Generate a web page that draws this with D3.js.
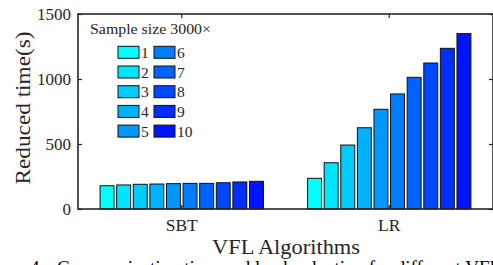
<!DOCTYPE html>
<html>
<head>
<meta charset="UTF-8">
<script src="https://d3js.org/d3.v7.min.js"></script>
<style>
  body { margin: 0; background: #fff; }
  svg text { font-family: "Liberation Serif", "Times New Roman", serif; fill: #262626; }
</style>
</head>
<body>
<div id="chart"></div>
<script>
// dati
var algorithms = ["SBT", "LR"];
var sampleSizes = ["1", "2", "3", "4", "5", "6", "7", "8", "9", "10"];
var sbtTime = [179, 185, 190, 192, 195, 197, 197, 202, 208, 213];
var lrTime = [236, 356, 492, 625, 767, 885, 1013, 1123, 1236, 1349];
var yTicks = [0, 500, 1000, 1500];

var width = 493, height = 265;
var plotLeft = 78, plotRight = 493, plotTop = 14, plotBottom = 209;

var svg = d3.select("#chart").append("svg")
    .attr("width", width)
    .attr("height", height);

var x0 = d3.scaleBand().domain(algorithms).range([plotLeft, plotRight]);
var x1 = d3.scaleBand().domain(sampleSizes).range([-83, 83]).paddingInner(0.16).paddingOuter(0.08);
var y = d3.scaleLinear().domain([0, 1500]).range([plotBottom, plotTop]);

var color = d3.scaleLinear().domain([0, sampleSizes.length - 1])
    .range(["#00ffff", "#0014ff"]).interpolate(d3.interpolateRgb);

var rows = [
    { name: "SBT", values: sbtTime },
    { name: "LR", values: lrTime }
];

// barre
var groups = svg.selectAll(".group")
    .data(rows)
    .enter().append("g")
    .attr("transform", function (d) { return "translate(" + (x0(d.name) + x0.bandwidth() / 2) + ",0)"; });

groups.selectAll("rect")
    .data(function (d) { return d.values.map(function (v, i) { return { k: sampleSizes[i], v: v, i: i }; }); })
    .enter().append("rect")
    .attr("x", function (d) { return x1(d.k); })
    .attr("width", x1.bandwidth())
    .attr("y", function (d) { return y(d.v); })
    .attr("height", function (d) { return plotBottom - y(d.v); })
    .style("fill", function (d) { return color(d.i); })
    .style("stroke", "#111")
    .style("stroke-width", 1);

// assi (box con tick interni)
var axisColor = "#262626";
var yAxis = svg.append("g").attr("transform", "translate(" + plotLeft + ",0)")
    .call(d3.axisLeft(y).tickValues(yTicks).tickFormat(d3.format("d")).tickSize(-4).tickPadding(7));
var yAxisR = svg.append("g").attr("transform", "translate(" + plotRight + ",0)")
    .call(d3.axisRight(y).tickValues(yTicks).tickSize(-4).tickFormat(""));
var xAxis = svg.append("g").attr("transform", "translate(0," + plotBottom + ")")
    .call(d3.axisBottom(x0).tickSize(-4).tickPadding(10));
var xAxisT = svg.append("g").attr("transform", "translate(0," + plotTop + ")")
    .call(d3.axisTop(x0).tickSize(-4).tickFormat(""));

[yAxis, yAxisR, xAxis, xAxisT].forEach(function (a) {
    a.select(".domain").remove();
    a.selectAll(".tick line").style("stroke", axisColor).style("stroke-width", 1.2);
    a.selectAll("text").style("font-family", "Liberation Serif").style("font-size", "17px").style("fill", axisColor);
});
xAxis.selectAll("text").style("font-size", "17.5px");

svg.append("rect")
    .attr("x", plotLeft).attr("y", plotTop)
    .attr("width", plotRight - plotLeft).attr("height", plotBottom - plotTop)
    .style("fill", "none")
    .style("stroke", axisColor)
    .style("stroke-width", 1.6);

// etichette
svg.append("text")
    .attr("transform", "translate(30,108) rotate(-90)")
    .attr("text-anchor", "middle")
    .attr("textLength", 153)
    .attr("lengthAdjust", "spacingAndGlyphs")
    .style("font-size", "21px")
    .text("Reduced time(s)");

svg.append("text")
    .attr("x", 286).attr("y", 254)
    .attr("text-anchor", "middle")
    .attr("textLength", 148)
    .attr("lengthAdjust", "spacingAndGlyphs")
    .style("font-size", "21px")
    .text("VFL Algorithms");

// didascalia tagliata in basso
svg.append("text")
    .attr("x", 30).attr("y", 274)
    .style("font-size", "19px")
    .style("fill", "#000")
    .text("4:");
svg.append("text")
    .attr("x", 57).attr("y", 274)
    .style("font-size", "19px")
    .style("fill", "#000")
    .text("Communication time and load reduction for different VFL algorithms");

// legenda
var legend = svg.append("g");
legend.append("text")
    .attr("x", 90).attr("y", 34)
    .attr("textLength", 121)
    .attr("lengthAdjust", "spacingAndGlyphs")
    .style("font-size", "15.5px")
    .text("Sample size 3000\u00d7");

var items = legend.selectAll(".item")
    .data(sampleSizes)
    .enter().append("g")
    .attr("transform", function (d, i) {
        var col = Math.floor(i / 5), row = i % 5;
        return "translate(" + (118 + col * 36) + "," + (52.3 + row * 19.7) + ")";
    });
items.append("rect")
    .attr("x", 0).attr("y", -6)
    .attr("width", 21).attr("height", 12)
    .style("fill", function (d, i) { return color(i); })
    .style("stroke", "#111")
    .style("stroke-width", 1);
items.append("text")
    .attr("x", 23).attr("y", 5.5)
    .style("font-size", "15.5px")
    .text(function (d) { return d; });
</script>
</body>
</html>
